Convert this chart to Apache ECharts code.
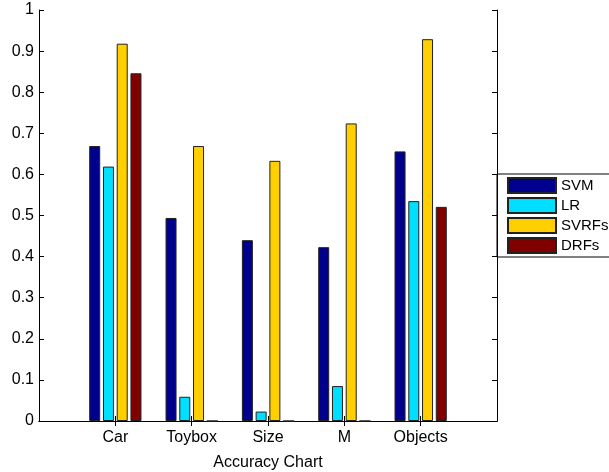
<!DOCTYPE html>
<html>
<head>
<meta charset="utf-8">
<script src="https://cdn.jsdelivr.net/npm/echarts@6/dist/echarts.min.js"></script>
<style>
  html, body { margin: 0; padding: 0; background: #fff; }
  #chart { width: 609px; height: 472px; }
</style>
</head>
<body>
<div id="chart"></div>
<script>
// categories padded with empty slots so the groups sit at 1..5 on a 0..6 range
var categories = ['', 'Car', 'Toybox', 'Size', 'M', 'Objects', ''];
var svm   = ['-', 0.669, 0.494, 0.440, 0.423, 0.656, '-'];
var lr    = ['-', 0.619, 0.059, 0.023, 0.085, 0.535, '-'];
var svrfs = ['-', 0.918, 0.669, 0.633, 0.724, 0.929, '-'];
var drfs  = ['-', 0.846, 0, 0, 0, 0.521, '-'];
var yTicks = [0, 1, 0.1];

var font = 'Liberation Sans, Arial, sans-serif';
var showTick = function (i) { return i > 0 && i < categories.length - 1; };

function barSeries(name, data, color) {
    return {
        name: name,
        type: 'bar',
        data: data,
        barWidth: 11,
        barGap: '25%',
        itemStyle: { color: color, borderColor: '#222', borderWidth: 1 },
        emphasis: { disabled: true }
    };
}

var option = {
    animation: false,
    textStyle: { fontFamily: font },
    grid: { left: 39, right: 112, top: 10, bottom: 51, outerBoundsMode: 'none' },
    legend: {
        orient: 'vertical',
        left: 497,
        top: 174,
        padding: [3, 40, 3, 10],
        itemWidth: 48,
        itemHeight: 15,
        itemGap: 3,
        borderColor: '#000',
        borderWidth: 1,
        icon: 'rect',
        textStyle: { fontSize: 15, color: '#000', fontFamily: font },
        data: ['SVM', 'LR', 'SVRFs', 'DRFs']
    },
    xAxis: [
        {
            type: 'category',
            data: categories,
            boundaryGap: false,
            name: 'Accuracy Chart',
            nameLocation: 'middle',
            nameGap: 34,
            nameTextStyle: { fontSize: 16, color: '#000', fontFamily: font },
            axisLine: { lineStyle: { color: '#000', width: 1 } },
            axisTick: { inside: true, length: 5, interval: showTick, lineStyle: { color: '#000' } },
            axisLabel: { fontSize: 16, color: '#000', margin: 9, interval: 0 },
            splitLine: { show: false }
        },
        {
            type: 'category',
            position: 'top',
            data: categories,
            boundaryGap: false,
            axisLine: { lineStyle: { color: '#000', width: 1 } },
            axisTick: { inside: true, length: 5, interval: showTick, lineStyle: { color: '#000' } },
            axisLabel: { show: false },
            splitLine: { show: false }
        }
    ],
    yAxis: [
        {
            type: 'value',
            min: yTicks[0],
            max: yTicks[1],
            interval: yTicks[2],
            axisLine: { show: true, lineStyle: { color: '#000', width: 1 } },
            axisTick: { show: true, inside: true, length: 5, lineStyle: { color: '#000' } },
            axisLabel: { fontSize: 16, color: '#000', margin: 5 },
            splitLine: { show: false }
        },
        {
            type: 'value',
            position: 'right',
            min: yTicks[0],
            max: yTicks[1],
            interval: yTicks[2],
            axisLine: { show: true, lineStyle: { color: '#000', width: 1 } },
            axisTick: { show: true, inside: true, length: 5, lineStyle: { color: '#000' } },
            axisLabel: { show: false },
            splitLine: { show: false }
        }
    ],
    series: [
        barSeries('SVM', svm, '#00008f'),
        barSeries('LR', lr, '#00dfff'),
        barSeries('SVRFs', svrfs, '#ffcf00'),
        barSeries('DRFs', drfs, '#800000')
    ]
};

var chart = echarts.init(document.getElementById('chart'));
chart.setOption(option, true);
</script>
</body>
</html>
